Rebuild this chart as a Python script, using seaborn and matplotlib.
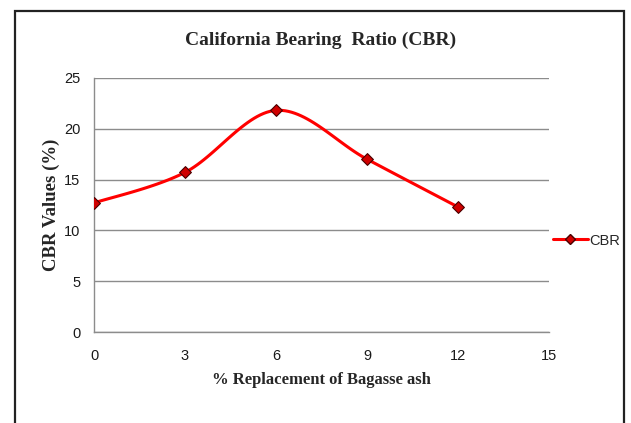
import numpy as np
import pandas as pd
import matplotlib
matplotlib.use("Agg")
import matplotlib.pyplot as plt
from matplotlib.patches import Rectangle
import seaborn as sns

# data
replacement = [0, 3, 6, 9, 12]
cbr_values = [12.7, 15.7, 21.8, 17.0, 12.3]
x_ticks = [0, 3, 6, 9, 12, 15]
y_ticks = [0, 5, 10, 15, 20, 25]


def smooth_curve(x, y, steps=30):
    # Catmull-Rom style smoothing, like Excel's "smoothed line"
    x = np.asarray(x, float)
    y = np.asarray(y, float)
    px = np.concatenate([[x[0]], x, [x[-1]]])
    py = np.concatenate([[y[0]], y, [y[-1]]])
    xs, ys = [], []
    t = np.linspace(0, 1, steps)
    for i in range(1, len(px) - 2):
        p0, p1, p2, p3 = (np.array([px[j], py[j]]) for j in range(i - 1, i + 3))
        c1 = p1 + (p2 - p0) / 6
        c2 = p2 - (p3 - p1) / 6
        b = ((1 - t) ** 3)[:, None] * p1 + (3 * (1 - t) ** 2 * t)[:, None] * c1 \
            + (3 * (1 - t) * t ** 2)[:, None] * c2 + (t ** 3)[:, None] * p2
        xs.extend(b[:, 0])
        ys.extend(b[:, 1])
    return np.array(xs), np.array(ys)


sns.set_style("white")
plt.rcParams['font.family'] = ['Liberation Sans', 'DejaVu Sans']

fig = plt.figure(figsize=(6.31, 4.23), dpi=100)
ax = fig.add_axes([0.149, 0.215, 0.721, 0.601])

sx, sy = smooth_curve(replacement, cbr_values)
curve = pd.DataFrame({"x": sx, "y": sy})
sns.lineplot(data=curve, x="x", y="y", ax=ax, color="#ff0000", linewidth=2.2,
             sort=False, estimator=None, zorder=3)
df = pd.DataFrame({"Replacement": replacement, "CBR": cbr_values})
sns.scatterplot(data=df, x="Replacement", y="CBR", ax=ax, marker="D", s=36,
                color="#d00000", edgecolor="#4a0000", linewidth=0.8, zorder=4)

ax.set_xlim(0, 15)
ax.set_ylim(0, 25)
ax.set_xticks(x_ticks)
ax.set_yticks(y_ticks)
ax.tick_params(axis="both", length=0, labelsize=10.5, colors="#1a1a1a")
ax.tick_params(axis="x", pad=12)
ax.tick_params(axis="y", pad=10)
ax.grid(axis="y", color="#8c8c8c", linewidth=1.0)
for side in ["top", "right"]:
    ax.spines[side].set_visible(False)
for side in ["left", "bottom"]:
    ax.spines[side].set_color("#8c8c8c")
    ax.spines[side].set_linewidth(1.0)

ax.set_xlabel("% Replacement of Bagasse ash", family="Liberation Serif",
              fontweight="bold", fontsize=12, labelpad=7)
ax.set_ylabel("CBR Values (%)", family="Liberation Serif",
              fontweight="bold", fontsize=13.5, labelpad=3)
fig.text(0.508, 0.905, "California Bearing  Ratio (CBR)", ha="center", va="center",
         family="Liberation Serif", fontweight="bold", fontsize=14)

# legend built from a proxy line
handle = plt.Line2D([], [], color="#ff0000", linewidth=2.2, marker="D",
                    markersize=5.5, markerfacecolor="#d00000", markeredgecolor="#4a0000")
ax.legend([handle], ["CBR"], loc="center left", bbox_to_anchor=(0.98, 0.36),
          frameon=False, handlelength=2.4, handletextpad=0.1, fontsize=10.5)

# outer frame
fig.patches.append(Rectangle((0.024, -0.02), 0.965, 0.994, transform=fig.transFigure,
                             fill=False, edgecolor="#222222", linewidth=1.6))

fig.savefig("out.png", dpi=100)
